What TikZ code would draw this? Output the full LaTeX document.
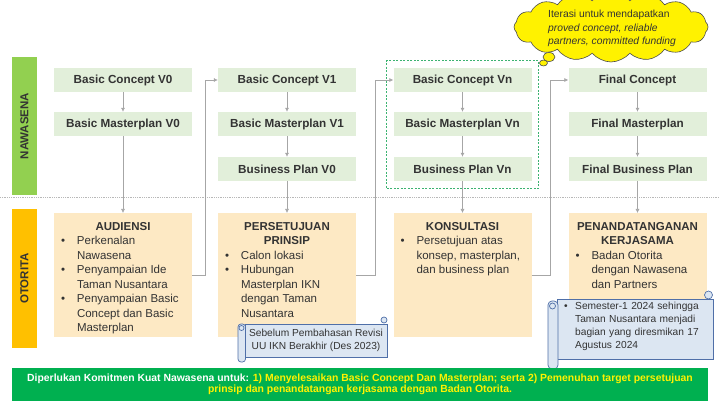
\documentclass[tikz,border=0pt]{standalone}
\usepackage{fontspec}
\setmainfont{Liberation Sans}
\usetikzlibrary{arrows.meta,positioning,fit,shapes.symbols}

\definecolor{nawagreen}{HTML}{92D050}
\definecolor{otogold}{HTML}{FFC000}
\definecolor{planfill}{HTML}{E2EFDA}
\definecolor{otofill}{HTML}{FDE9C4}
\definecolor{linegray}{HTML}{A6A6A6}
\definecolor{txtgray}{HTML}{333333}
\definecolor{bannergreen}{HTML}{00B050}
\definecolor{scrollfill}{HTML}{DCE6F2}
\definecolor{scrollline}{HTML}{4F6FA8}
\definecolor{iterdash}{HTML}{3CB371}

% bottom box body: fixed height, text from the top
\newcommand{\otobody}[1]{\parbox[t][124pt][t]{138pt}{\raggedright #1}}
\newcommand{\otohead}[1]{{\centering\rule{0pt}{17pt}\bfseries #1\par}}
\newcommand{\otoitem}[1]{\par\noindent\hangindent=23pt\hangafter=1\makebox[23pt][l]{\hspace{7pt}\textbullet}#1\par}

\tikzset{
  planbox/.style={fill=planfill, minimum width=138pt, minimum height=24pt, inner sep=0pt,
    font=\fontsize{11.7}{13}\selectfont\bfseries, text=txtgray},
  otobox/.style={fill=otofill, anchor=north, inner sep=0pt,
    font=\fontsize{11.5}{14.5}\selectfont, text=txtgray},
  sidebar/.style={rotate=90, minimum width=138pt, minimum height=25pt, inner sep=0pt,
    font=\fontsize{11.5}{13}\selectfont\bfseries, text=txtgray},
  conn/.style={draw=linegray, line width=0.6pt, -{Latex[length=4pt,width=4pt]}},
  iterbox/.style={draw=iterdash, line width=1pt, dash pattern=on 2pt off 1.5pt, inner xsep=6.5pt, inner ysep=7.5pt},
  scrollshape/.style={fill=scrollfill, draw=scrollline, line width=0.7pt},
  scrolltext/.style={inner sep=0pt, font=\fontsize{10.2}{13}\selectfont, text=txtgray},
  banner/.style={fill=bannergreen, minimum width=696pt, minimum height=33pt, inner sep=0pt,
    align=center, text=yellow, font=\fontsize{10.4}{11.5}\selectfont\bfseries},
}

\begin{document}
\begin{tikzpicture}[x=1pt,y=-1pt]
  \useasboundingbox (0,0) rectangle (720,403);

  % Side bars
  \node[sidebar, fill=nawagreen] (nawa) at (24.5,126) {NAWASENA};
  \node[sidebar, fill=otogold, minimum width=139pt] (oto) at (24.5,278.5) {OTORITA};

  % Separator
  \coordinate (sepL) at (0,197);
  \coordinate (sepR) at (720,197);
  \draw[linegray!80, densely dotted, line width=0.8pt] (sepL) -- (sepR);

  % Nawasena plans
  \node[planbox] (bc0) at (123,80) {Basic Concept V0};
  \node[planbox] (bm0) at (123,124) {Basic Masterplan V0};

  \node[planbox] (bc1) at (287,80) {Basic Concept V1};
  \node[planbox] (bm1) at (287,124) {Basic Masterplan V1};
  \node[planbox] (bp0) at (287,169) {Business Plan V0};

  \node[planbox] (bcn) at (462.5,80) {Basic Concept Vn};
  \node[planbox] (bmn) at (462.5,124) {Basic Masterplan Vn};
  \node[planbox] (bpn) at (462.5,169) {Business Plan Vn};

  \node[planbox] (fcon) at (637.5,80) {Final Concept};
  \node[planbox] (fmas) at (637.5,124) {Final Masterplan};
  \node[planbox] (fbus) at (637.5,169) {Final Business Plan};

  % Otorita steps
  \node[otobox] (aud) at (123,213) {\otobody{%
    \otohead{AUDIENSI}
    \otoitem{Perkenalan\newline Nawasena}
    \otoitem{Penyampaian Ide\newline Taman Nusantara}
    \otoitem{Penyampaian Basic\newline Concept dan Basic\newline Masterplan}}};
  \node[otobox] (pers) at (287,213) {\otobody{%
    \otohead{PERSETUJUAN\\PRINSIP}
    \otoitem{Calon lokasi}
    \otoitem{Hubungan\newline Masterplan IKN\newline dengan Taman\newline Nusantara}}};
  \node[otobox] (kons) at (462.5,213) {\otobody{%
    \otohead{KONSULTASI}
    \otoitem{Persetujuan atas\newline konsep, masterplan,\newline dan business plan}}};
  \node[otobox] (pena) at (637.5,213) {\otobody{%
    \otohead{PENANDATANGANAN\\KERJASAMA}
    \otoitem{Badan Otorita\newline dengan Nawasena\newline dan Partners}}};

  % Connectors
  \draw[conn] (bc0) -- (bm0);
  \draw[conn] (bm0) -- (aud);
  \draw[conn] (aud.east) -- ++(13,0) |- (bc1.west);
  \draw[conn] (bc1) -- (bm1);
  \draw[conn] (bm1) -- (bp0);
  \draw[conn] (bp0) -- (pers);
  \draw[conn] (pers.east) -- ++(19,0) |- (bcn.west);
  \draw[conn] (bcn) -- (bmn);
  \draw[conn] (bmn) -- (bpn);
  \draw[conn] (bpn) -- (kons);
  \draw[conn] (kons.east) -- ++(19,0) |- (fcon.west);
  \draw[conn] (fcon) -- (fmas);
  \draw[conn] (fmas) -- (fbus);
  \draw[conn] (fbus) -- (pena);

  % Iteration frame
  \node[iterbox, fit=(bcn)(bpn)] (iterframe) {};

  % Cloud callout
  \node[cloud, cloud puffs=16, cloud puff arc=100, cloud ignores aspect, minimum width=194pt, minimum height=70pt,
    inner sep=0pt, fill=yellow, draw=gray!60!black, line width=0.6pt] (bubble) at (611,27) {};
  \draw[fill=yellow, draw=gray!60!black, line width=0.6pt] (549,57) ellipse (6pt and 4.5pt);
  \draw[fill=yellow, draw=gray!60!black, line width=0.6pt] (543.5,63) ellipse (4pt and 3pt);
  \node[anchor=west, inner sep=0pt, align=left, text=txtgray,
    font=\fontsize{10.3}{13.5}\selectfont] (itertext) at (548,28.5)
    {Iterasi untuk mendapatkan\\\textit{proved concept, reliable}\\\textit{partners, committed funding}};

  % Scroll notes
  \path[scrollshape] (245,324) rectangle (387,357);
  \path[scrollshape, rounded corners=3pt] (238,324) rectangle (245.5,362);
  \path[scrollshape] (384,320) circle (3pt);
  \path[scrollshape] (241.5,328) circle (2.5pt);
  \node[scrolltext, align=center] (revisi) at (316,340)
    {Sebelum Pembahasan Revisi\\UU IKN Berakhir (Des 2023)};

  \path[scrollshape] (557,299) rectangle (713,359);
  \path[scrollshape, rounded corners=4pt] (548,301) rectangle (558,369);
  \path[scrollshape] (708.5,295) circle (4pt);
  \path[scrollshape] (552.5,306) circle (3pt);
  \node[scrolltext, anchor=north west, text width=140pt, align=left] (semester) at (564,302)
    {\hangindent=11pt\hangafter=1\makebox[11pt][l]{\textbullet}Semester-1 2024 sehingga\newline Taman Nusantara menjadi\newline bagian yang diresmikan 17\newline Agustus 2024\par};

  % Banner
  \node[banner] (commit) at (360,384.5)
    {\textcolor{white}{Diperlukan Komitmen Kuat Nawasena untuk:} 1) Menyelesaikan Basic Concept Dan Masterplan; serta 2) Pemenuhan target persetujuan\\prinsip dan penandatangan kerjasama dengan Badan Otorita.};
\end{tikzpicture}
\end{document}
